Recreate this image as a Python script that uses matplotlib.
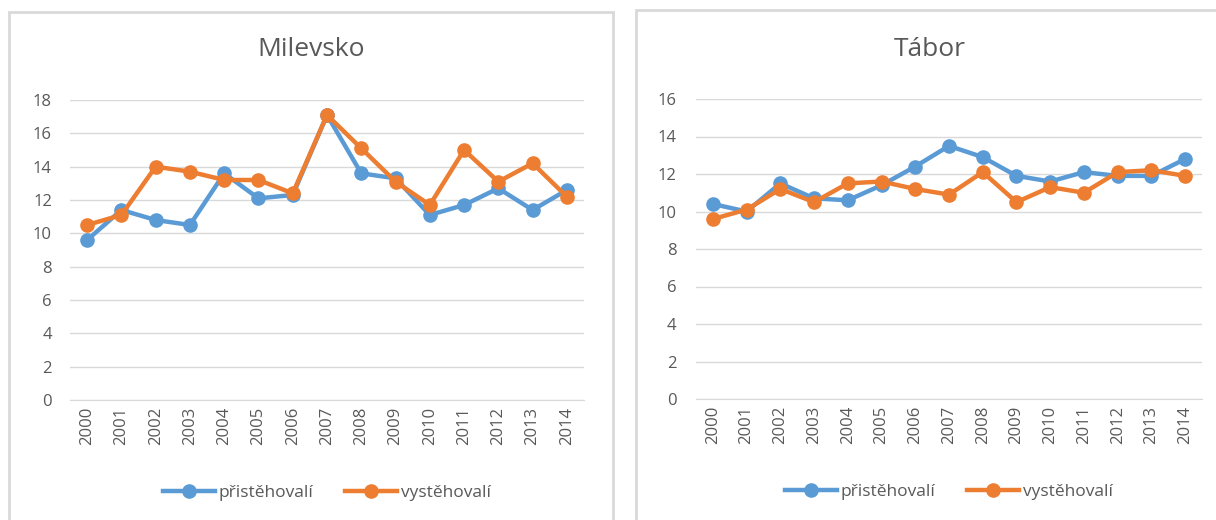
import matplotlib.pyplot as plt
import matplotlib.patches as patches

plt.rcParams['font.family'] = ['Open Sans', 'DejaVu Sans']

years = [str(y) for y in range(2000, 2015)]

milevsko_in = [9.6, 11.4, 10.8, 10.5, 13.6, 12.1, 12.3, 17.1, 13.6, 13.3, 11.1, 11.7, 12.7, 11.4, 12.6]
milevsko_out = [10.5, 11.1, 14.0, 13.7, 13.2, 13.2, 12.4, 17.1, 15.1, 13.1, 11.7, 15.0, 13.1, 14.2, 12.2]

tabor_in = [10.4, 10.0, 11.5, 10.7, 10.6, 11.4, 12.4, 13.5, 12.9, 11.9, 11.6, 12.1, 11.9, 11.9, 12.8]
tabor_out = [9.6, 10.1, 11.2, 10.5, 11.5, 11.6, 11.2, 10.9, 12.1, 10.5, 11.3, 11.0, 12.1, 12.2, 11.9]

labels = ['přistěhovalí', 'vystěhovalí']
BLUE = '#5B9BD5'
ORANGE = '#ED7D31'
TXT = '#595959'

W, H = 1216, 520
fig = plt.figure(figsize=(W / 100, H / 100), dpi=100)


def px(x0, y0, x1, y1):
    # pixel box (top-left origin) -> figure fraction rect
    return [x0 / W, 1 - y1 / H, (x1 - x0) / W, (y1 - y0) / H]


# panel frames
for x0, y0, x1 in [(9, 12, 613), (636, 10, 1222)]:
    fig.patches.append(patches.Rectangle((x0 / W, -0.05), (x1 - x0) / W, 1 - y0 / H + 0.05,
                                         transform=fig.transFigure, fill=False,
                                         edgecolor='#d9d9d9', linewidth=2))


def draw(rect, title, a, b, ymax, title_x, ypad):
    ax = fig.add_axes(rect)
    ax.plot(years, a, color=BLUE, lw=3.2, marker='o', ms=9.5, label=labels[0])
    ax.plot(years, b, color=ORANGE, lw=3.2, marker='o', ms=9.5, label=labels[1])
    ax.set_ylim(0, ymax)
    ax.set_xlim(-0.5, len(years) - 0.5)
    ax.set_yticks(range(0, ymax + 1, 2))
    ax.grid(axis='y', color='#d9d9d9', lw=1)
    ax.set_axisbelow(True)
    for s in ['top', 'right', 'left']:
        ax.spines[s].set_visible(False)
    ax.spines['bottom'].set_color('#d9d9d9')
    ax.tick_params(axis='both', length=0, colors=TXT, labelsize=12)
    ax.tick_params(axis='y', pad=ypad)
    ax.tick_params(axis='x', pad=5)
    plt.setp(ax.get_xticklabels(), rotation=90)
    fig.text(title_x / W, 1 - 50 / H, title, ha='center', va='center',
             fontsize=19, color=TXT)
    ax.legend(loc='center', bbox_to_anchor=(0.5, -0.31), ncol=2, frameon=False,
              fontsize=12.5, labelcolor=TXT, handlelength=3, columnspacing=1.8,
              handletextpad=0.2)
    return ax


draw(px(70, 100, 584, 400), 'Milevsko', milevsko_in, milevsko_out, 18, 311, 13)
draw(px(696, 99, 1202, 399), 'Tábor', tabor_in, tabor_out, 16, 930, 14)

plt.savefig('out.png', dpi=100)
